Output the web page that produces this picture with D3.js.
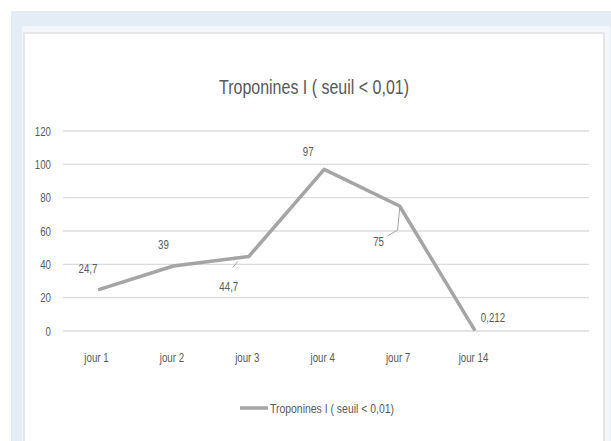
<!DOCTYPE html>
<html><head><meta charset="utf-8">
<script src="https://cdn.jsdelivr.net/npm/d3@7"></script>
<style>body{margin:0;background:#fff}svg{display:block}</style>
</head><body>
<svg id="c" width="611" height="441"></svg>
<script>
const categories = ["jour 1","jour 2","jour 3","jour 4","jour 7","jour 14"];
const values = [24.7, 39, 44.7, 97, 75, 0.212];
const valueLabels = ["24,7","39","44,7","97","75","0,212"];
const yTicks = [0,20,40,60,80,100,120];
const title = "Troponines I ( seuil < 0,01)";

const svg = d3.select("#c");
const font = "'Liberation Sans',Arial,sans-serif";
const textCol = "#595959";
const SX = 0.72;

svg.append("rect").attr("x",11).attr("y",11).attr("width",600).attr("height",430).attr("fill","#e4ecf5");
svg.append("rect").attr("x",22).attr("y",26).attr("width",588).attr("height",415).attr("fill","#f3f7fb");
svg.append("rect").attr("x",24).attr("y",33).attr("width",580).attr("height",410).attr("fill","#fff").attr("stroke","#d9d9d9").attr("stroke-width",1.2);

const y = d3.scaleLinear().domain([0,120]).range([331,131]);
const x = d3.scalePoint().domain(categories).range([98,475]);

// gridlines
const gx0 = 63, gx1 = 589;
svg.append("g").selectAll("line").data(yTicks).join("line")
  .attr("x1",gx0).attr("x2",gx1).attr("y1",d=>y(d)).attr("y2",d=>y(d))
  .attr("stroke","#dcdcdc").attr("stroke-width",1.3);

// y axis labels
const yAxis = d3.axisLeft(y).tickValues(yTicks).tickSize(0).tickPadding(0);
const ya = svg.append("g").attr("transform","translate(51,0)").call(yAxis);
ya.select(".domain").remove();
ya.selectAll("text").attr("font-family",font).attr("font-size",13.5).attr("fill",textCol)
  .attr("transform",`scale(${SX},1)`);

// x axis labels
const xAxis = d3.axisBottom(x).tickSize(0).tickPadding(0);
const xa = svg.append("g").attr("transform","translate(-2,352)").call(xAxis);
xa.select(".domain").remove();
xa.selectAll("text").attr("font-family",font).attr("font-size",13.5).attr("fill",textCol)
  .attr("transform",`scale(${SX},1)`);

// title
svg.append("text").attr("x",314).attr("y",94).attr("text-anchor","middle")
  .attr("font-family",font).attr("font-size",20).attr("fill",textCol)
  .attr("textLength",190).attr("lengthAdjust","spacingAndGlyphs").text(title);

// line
const line = d3.line().x((d,i)=>x(categories[i])).y(d=>y(d));
svg.append("path").datum(values).attr("d",line).attr("fill","none")
  .attr("stroke","#a5a5a5").attr("stroke-width",3.5).attr("stroke-linejoin","round");

// data labels
const offsets = [[-10,-17],[-10,-17],[-20,35],[-16,-13],[-21,40],[18,-9]];
svg.append("g").selectAll("text").data(values).join("text")
  .attr("x",(d,i)=>(x(categories[i])+offsets[i][0])/SX)
  .attr("y",(d,i)=>y(d)+offsets[i][1])
  .attr("transform",`scale(${SX},1)`)
  .attr("text-anchor","middle")
  .attr("font-family",font).attr("font-size",13.5).attr("fill",textCol)
  .text((d,i)=>valueLabels[i]);

// leader lines for 44,7 and 75
const i3 = 2, i7 = 4;
svg.append("path").attr("d",`M${x(categories[i3])-11},${y(values[i3])+5} L${x(categories[i3])-16},${y(values[i3])+11}`)
  .attr("stroke","#a5a5a5").attr("fill","none").attr("stroke-width",1);
svg.append("path").attr("d",`M${x(categories[i7])},${y(values[i7])+3} L${x(categories[i7])-2},${y(values[i7])+24} L${x(categories[i7])-12},${y(values[i7])+30}`)
  .attr("stroke","#a5a5a5").attr("fill","none").attr("stroke-width",1);

// legend
svg.append("line").attr("x1",240).attr("x2",268).attr("y1",408).attr("y2",408)
  .attr("stroke","#a5a5a5").attr("stroke-width",3.5);
svg.append("text").attr("x",270).attr("y",413).attr("font-family",font).attr("font-size",13)
  .attr("fill",textCol).attr("textLength",124).attr("lengthAdjust","spacingAndGlyphs").text(title);
</script>
</body></html>
